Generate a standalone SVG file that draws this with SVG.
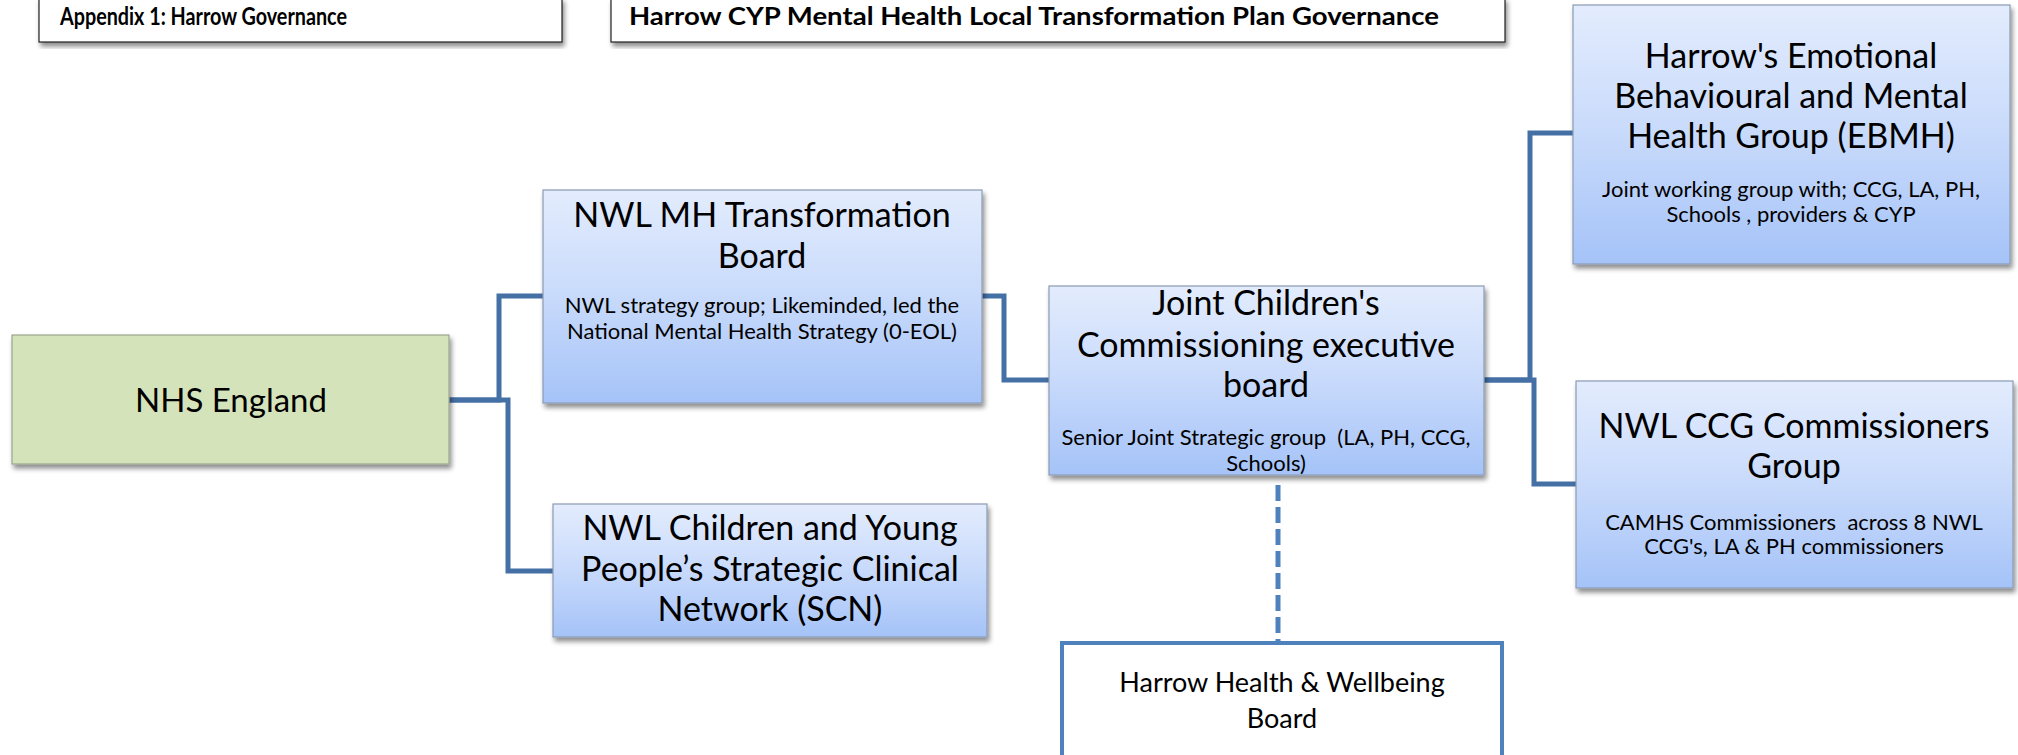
<svg xmlns="http://www.w3.org/2000/svg" width="2018" height="755" viewBox="0 0 2018 755">
<defs>
<linearGradient id="blueGrad" x1="0" y1="0" x2="0" y2="1">
<stop offset="0" stop-color="#E3ECFD"/>
<stop offset="0.5" stop-color="#C8DAFB"/>
<stop offset="1" stop-color="#A5C3F8"/>
</linearGradient>
<filter id="shadow" x="-5%" y="-5%" width="115%" height="120%">
<feGaussianBlur in="SourceAlpha" stdDeviation="2.5"/>
<feOffset dx="2" dy="4" result="b"/>
<feComponentTransfer><feFuncA type="linear" slope="0.45"/></feComponentTransfer>
<feMerge><feMergeNode/><feMergeNode in="SourceGraphic"/></feMerge>
</filter>
<style>
text{font-family:Lato,"Liberation Sans",sans-serif;fill:#000;}
.t{font-size:34px;text-anchor:middle;}
.s{font-size:22px;text-anchor:middle;white-space:pre;}
.h{font-size:24px;font-weight:bold;}
.box{fill:url(#blueGrad);stroke:#8A9BB5;stroke-width:1.2;filter:url(#shadow);}
.conn{fill:none;stroke:#4570A6;stroke-width:5;stroke-linejoin:miter;}
</style>
</defs>
<rect width="2018" height="755" fill="#fff"/>
<g id="header1">
<rect x="39" y="-2" width="523" height="44" fill="#fff" stroke="#222" stroke-width="1.2" filter="url(#shadow)"/>
<text class="h" x="60" y="25" textLength="287" lengthAdjust="spacingAndGlyphs">Appendix 1: Harrow Governance</text>
</g>
<g id="header2">
<rect x="611" y="-2" width="894" height="44" fill="#fff" stroke="#222" stroke-width="1.2" filter="url(#shadow)"/>
<text class="h" x="629" y="25" textLength="810" lengthAdjust="spacingAndGlyphs">Harrow CYP Mental Health Local Transformation Plan Governance</text>
</g>
<g id="connectors">
<path class="conn" d="M449,400 H499 V296 H543"/>
<path class="conn" d="M449,400 H508 V571 H553"/>
<path class="conn" d="M982,296 H1004 V380 H1049"/>
<path class="conn" d="M1484,380 H1530 V133 H1573"/>
<path class="conn" d="M1484,380 H1534 V484 H1576"/>
<path fill="none" stroke="#4F81BD" stroke-width="5" stroke-dasharray="16 6" d="M1278,485 V643"/>
</g>
<g id="nhs-england">
<rect x="12" y="335" width="437" height="129" fill="#D5E3BB" stroke="#9AA58E" stroke-width="1.2" filter="url(#shadow)"/>
<text class="t" x="231" y="412" style="font-size:33px">NHS England</text>
</g>
<g id="nwl-mh-board">
<rect class="box" x="543" y="190" width="439" height="213"/>
<text class="t" x="762" y="227">NWL MH Transformation</text>
<text class="t" x="762" y="268">Board</text>
<text class="s" x="762" y="313">NWL strategy group; Likeminded, led the</text>
<text class="s" x="762" y="339">National Mental Health Strategy (0-EOL)</text>
</g>
<g id="nwl-scn">
<rect class="box" x="553" y="504" width="434" height="133"/>
<text class="t" x="770" y="540">NWL Children and Young</text>
<text class="t" x="770" y="581">People’s Strategic Clinical</text>
<text class="t" x="770" y="621">Network (SCN)</text>
</g>
<g id="joint-board">
<rect class="box" x="1049" y="286" width="435" height="189"/>
<text class="t" x="1266" y="315">Joint Children's</text>
<text class="t" x="1266" y="357">Commissioning executive</text>
<text class="t" x="1266" y="397">board</text>
<text class="s" x="1266" y="445">Senior Joint Strategic group  (LA, PH, CCG,</text>
<text class="s" x="1266" y="471">Schools)</text>
</g>
<g id="ebmh">
<rect class="box" x="1573" y="5" width="437" height="259"/>
<text class="t" x="1791" y="68">Harrow's Emotional</text>
<text class="t" x="1791" y="108">Behavioural and Mental</text>
<text class="t" x="1791" y="148">Health Group (EBMH)</text>
<text class="s" x="1791" y="197">Joint working group with; CCG, LA, PH,</text>
<text class="s" x="1791" y="222">Schools , providers &amp; CYP</text>
</g>
<g id="nwl-ccg">
<rect class="box" x="1576" y="381" width="437" height="207"/>
<text class="t" x="1794" y="438">NWL CCG Commissioners</text>
<text class="t" x="1794" y="478">Group</text>
<text class="s" x="1794" y="530">CAMHS Commissioners  across 8 NWL</text>
<text class="s" x="1794" y="554">CCG's, LA &amp; PH commissioners</text>
</g>
<g id="hwb">
<rect x="1062" y="643" width="440" height="130" fill="#fff" stroke="#4F81BD" stroke-width="4"/>
<text class="t" x="1282" y="692" style="font-size:27px">Harrow Health &amp; Wellbeing</text>
<text class="t" x="1282" y="728" style="font-size:27px">Board</text>
</g>
</svg>
